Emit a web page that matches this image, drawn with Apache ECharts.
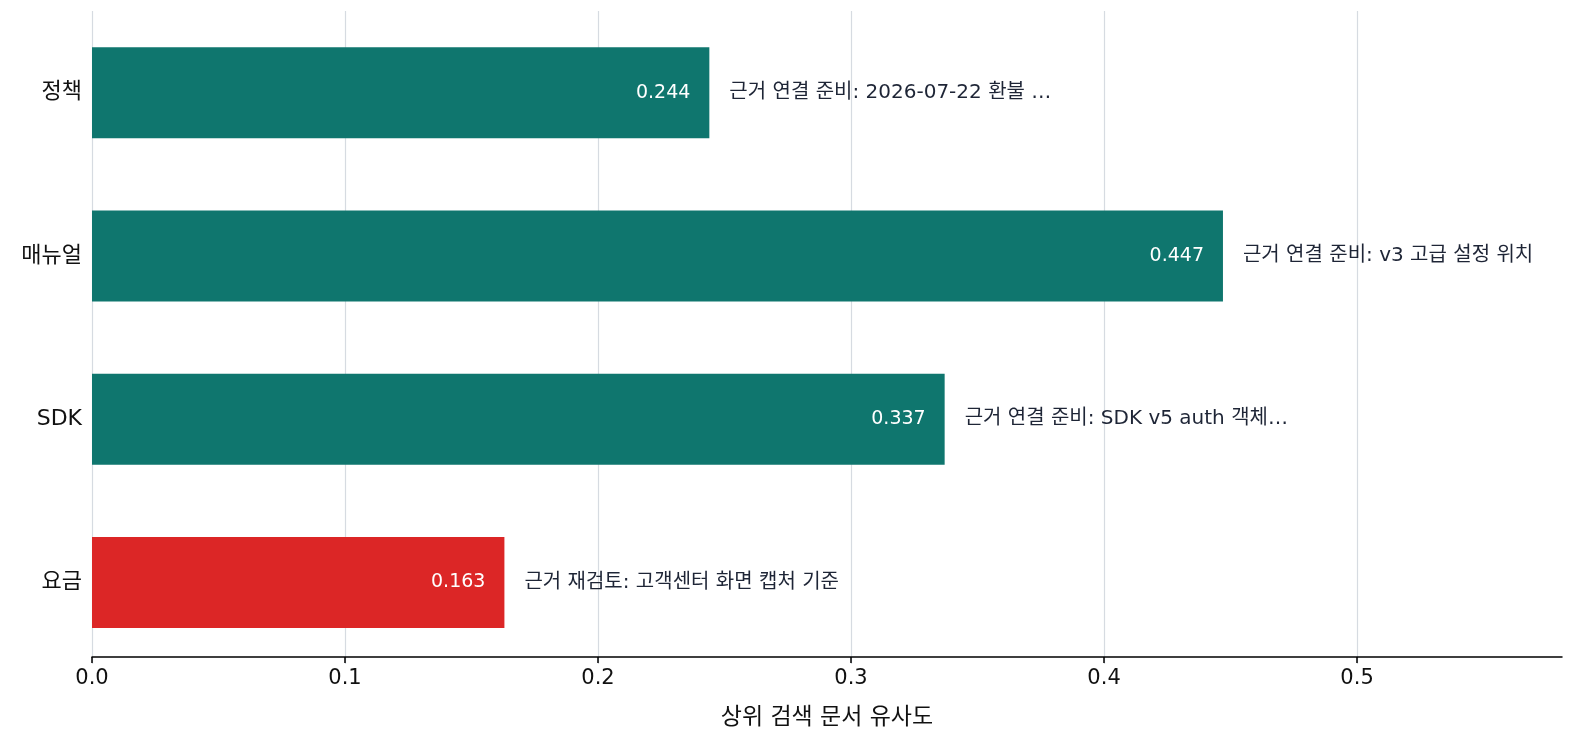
<!DOCTYPE html>
<html>
<head>
<meta charset="utf-8">
<script src="https://cdn.jsdelivr.net/npm/echarts@6/dist/echarts.min.js"></script>
<style>
  html, body { margin: 0; padding: 0; background: #fff; }
  #chart { width: 1580px; height: 747px; }
</style>
</head>
<body>
<div id="chart"></div>
<script>
var categories = ['정책', '매뉴얼', 'SDK', '요금'];
var scores = [0.244, 0.447, 0.337, 0.163];
var notes = [
  '근거 연결 준비: 2026-07-22 환불 …',
  '근거 연결 준비: v3 고급 설정 위치',
  '근거 연결 준비: SDK v5 auth 객체…',
  '근거 재검토: 고객센터 화면 캡처 기준'
];
var flagged = [false, false, false, true];
var xTicks = [0, 0.1, 0.2, 0.3, 0.4, 0.5];

var FONT = '"DejaVu Sans", "Noto Sans CJK KR", sans-serif';
var TEAL = '#0f766e';
var RED = '#dc2626';

var chartDom = document.getElementById('chart');
var myChart = echarts.init(chartDom, null, { renderer: 'canvas' });

var barData = scores.map(function (v, i) {
  return { value: v, itemStyle: { color: flagged[i] ? RED : TEAL } };
});

var option = {
  animation: false,
  textStyle: { fontFamily: FONT },
  grid: { left: 92, right: 18, top: 11, bottom: 83 },
  xAxis: {
    type: 'value',
    min: 0,
    max: 0.581,
    interval: 0.1,
    offset: -7,
    axisLine: { show: true, lineStyle: { color: '#000', width: 1.5 } },
    axisTick: { show: true, length: 6, customValues: xTicks, lineStyle: { color: '#000', width: 1.5 } },
    axisLabel: {
      customValues: xTicks,
      color: '#111', fontSize: 21, margin: 11, fontFamily: FONT,
      formatter: function (v) { return v.toFixed(1); }
    },
    splitLine: { show: true, lineStyle: { color: '#d6dbe1', width: 1.2 } },
    name: '상위 검색 문서 유사도',
    nameLocation: 'middle',
    nameGap: 50,
    nameTextStyle: { color: '#111', fontSize: 23, fontFamily: FONT }
  },
  yAxis: {
    type: 'category',
    inverse: true,
    data: categories,
    axisLine: { show: false },
    axisTick: { show: false },
    axisLabel: { color: '#111', fontSize: 22, margin: 10, fontFamily: FONT },
    splitLine: { show: false }
  },
  series: [
    {
      type: 'bar',
      data: barData,
      barWidth: 91,
      label: {
        show: true,
        position: 'insideRight',
        distance: 19,
        color: '#fff',
        fontSize: 19,
        fontFamily: FONT,
        formatter: function (p) { return p.value.toFixed(3); }
      },
      z: 2
    },
    {
      type: 'bar',
      data: scores,
      barWidth: 91,
      barGap: '-100%',
      itemStyle: { color: 'rgba(0,0,0,0)' },
      silent: true,
      label: {
        show: true,
        position: 'right',
        distance: 20,
        color: '#1e2536',
        fontSize: 20,
        fontFamily: FONT,
        formatter: function (p) { return notes[p.dataIndex]; }
      },
      z: 3
    }
  ]
};
myChart.setOption(option);
</script>
</body>
</html>
